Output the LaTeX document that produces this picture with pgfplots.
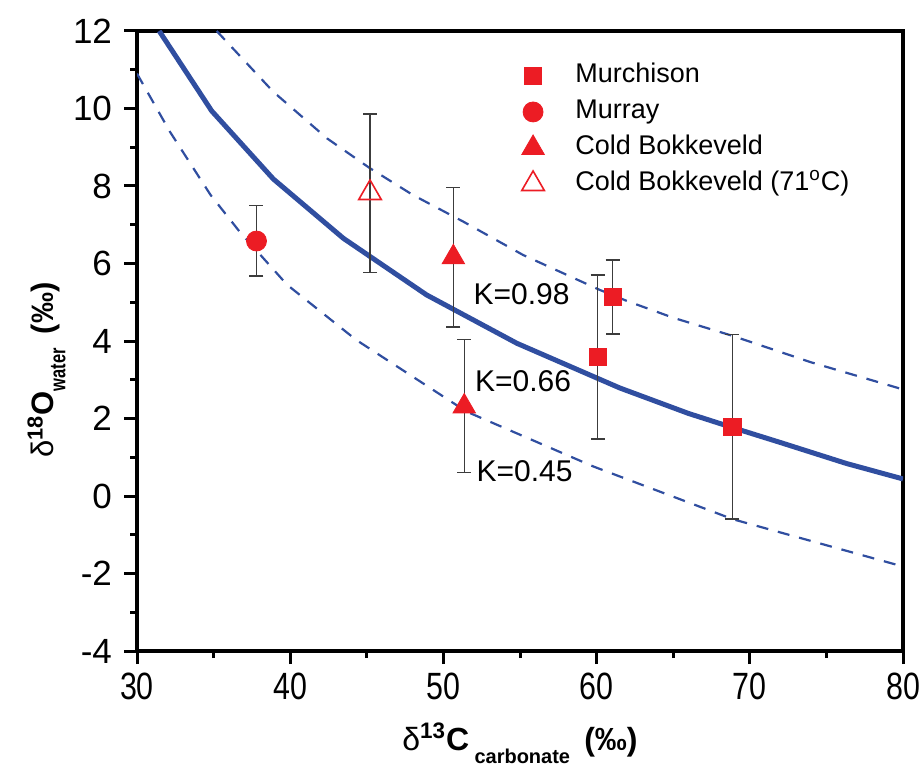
\documentclass[border=0pt]{standalone}
\usepackage{pgfplots}
\pgfplotsset{compat=1.18}
\usepackage{fontspec}
\setmainfont{Liberation Sans}
\definecolor{mred}{RGB}{236,28,36}
\definecolor{mblue}{RGB}{48,78,160}
\definecolor{ebar}{RGB}{60,60,60}

\pgfplotsset{
  errstyle/.style={
    error bars/.cd, y dir=both, y explicit,
    error bar style={ebar, line width=0.65pt, solid},
    error mark options={rotate=90, mark size=3.5pt, ebar, line width=0.65pt, solid},
  },
}

\begin{document}
\begin{tikzpicture}
\useasboundingbox (-68.5pt,-63pt) rectangle (393.5pt,325.5pt);
\begin{axis}[
  scale only axis, width=383pt, height=310pt,
  xmin=30, xmax=80, ymin=-4, ymax=12,
  xtick={30,40,...,80}, ytick={-4,-2,...,12},
  minor xtick={35,45,...,75}, minor ytick={-3,-1,...,11},
  tick align=outside, tick pos=left,
  major tick length=6.5pt, minor tick length=3.5pt,
  every tick/.style={black, line width=1.5pt},
  axis line style={line width=2.2pt},
  clip mode=individual,
  /pgf/number format/assume math mode=true,
  yticklabel style={font=\fontsize{17.5}{17.5}\selectfont, xshift=-2.5pt},
  xticklabel={\scalebox{0.8}[1]{\pgfmathprintnumber{\tick}}},
  xticklabel style={font=\fontsize{19}{19}\selectfont, yshift=-1pt},
  legend style={draw=none, fill=none, font=\fontsize{13.5}{13.5}\selectfont,
    at={(rel axis cs:0.494,0.962)}, anchor=north west,
    column sep=13.5pt, row sep=1pt,
    nodes={text height=10pt, text depth=3pt},
    row 4/.style={yshift=-3pt}},
  legend cell align=left,
]
% K = 0.66 (solid)
\addplot[mblue, line width=2.5pt, forget plot] coordinates {
  (31.45,12.0) (34.87,9.94) (38.9,8.18) (43.47,6.65) (48.9,5.19) (54.8,3.94)
  (61.5,2.79) (66,2.13) (69,1.75) (72,1.38) (76.3,0.84) (80,0.44)};
% K = 0.98 (dashed)
\addplot[mblue, line width=1.1pt, dash pattern=on 6pt off 5pt, forget plot] coordinates {
  (35.2,12.0) (38.9,10.43) (42.4,9.23) (45.2,8.46) (48.0,7.77) (51.3,7.08)
  (55.2,6.22) (60.2,5.32) (62,5.03) (65,4.6) (68.9,4.13) (74,3.45) (80,2.75)};
% K = 0.45 (dashed)
\addplot[mblue, line width=1.1pt, dash pattern=on 6pt off 5pt, forget plot] coordinates {
  (30,10.9) (32.15,9.4) (34.8,7.77) (36.7,6.82) (39.8,5.45) (44.3,4.03)
  (51.5,2.18) (59.8,0.76) (68.9,-0.6) (80,-1.82)};

\addplot[only marks, mark=square*, mark size=4.3pt, mred, errstyle]
  table[x=x, y=y, y error plus=ep, y error minus=em] {
  x     y     ep    em
  60.07 3.60  2.10  2.13
  61.05 5.14  0.95  0.96
  68.86 1.79  2.38  2.38
};
\addlegendentry{Murchison}
\addplot[only marks, mark=*, mark size=5pt, mred, errstyle]
  table[x=x, y=y, y error plus=ep, y error minus=em] {
  x     y     ep    em
  37.8  6.58  0.92  0.90
};
\addlegendentry{Murray}
\addplot[only marks, mark=triangle*, mark size=6.5pt, mred, errstyle]
  table[x=x, y=y, y error plus=ep, y error minus=em] {
  x     y     ep    em
  50.65 6.16  1.80  1.80
  51.36 2.31  1.72  1.71
};
\addlegendentry{Cold Bokkeveld}
\addplot[only marks, mark=triangle, mark size=6.5pt, mred, mark options={line width=0.8pt}, errstyle]
  table[x=x, y=y, y error plus=ep, y error minus=em] {
  x     y     ep    em
  45.21 7.82  2.04  2.05
};
\addlegendentry{Cold Bokkeveld (71\textsuperscript{o}C)}

\node[font=\fontsize{15}{15}\selectfont] at (axis cs:55.1,5.21) {K=0.98};
\node[font=\fontsize{15}{15}\selectfont] at (axis cs:55.2,2.97) {K=0.66};
\node[font=\fontsize{15}{15}\selectfont] at (axis cs:55.3,0.65) {K=0.45};

\node[rotate=90, anchor=base, font=\fontsize{15.5}{15.5}\selectfont\bfseries]
  at (axis cs:24.52,3.25) {{\mdseries δ}\textsuperscript{18}O\raisebox{-0.4em}{\fontsize{11}{11}\selectfont\scalebox{0.75}[1]{water}}\, (‰)};
\node[anchor=base, font=\fontsize{16}{16}\selectfont\bfseries]
  at (axis cs:55,-6.58) {{\mdseries δ}\textsuperscript{13}C\,\raisebox{-0.4em}{\fontsize{10}{10}\selectfont carbonate}\, (‰)};
\end{axis}
\end{tikzpicture}
\end{document}
